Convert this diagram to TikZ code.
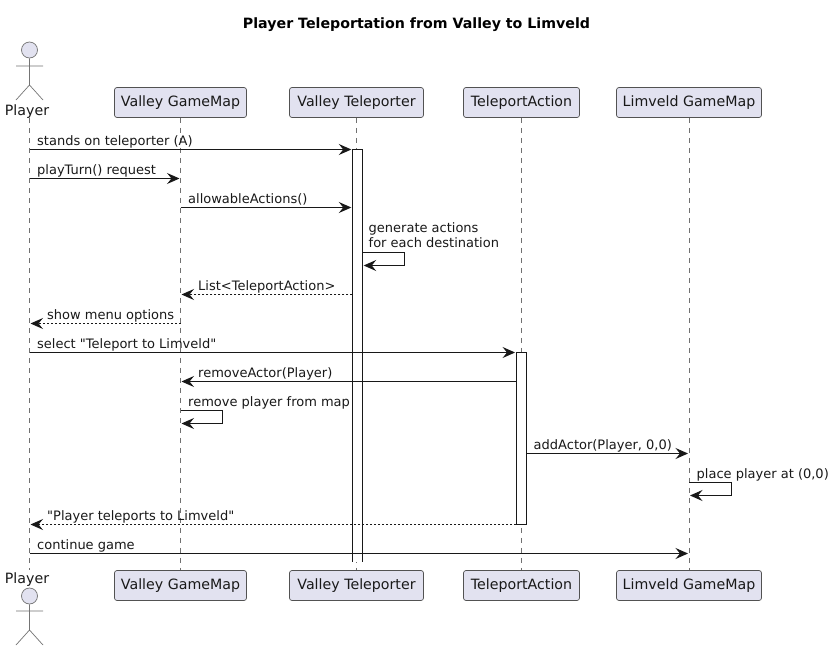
\documentclass[tikz,border=0pt]{standalone}
\usepackage{fontspec}
\setmainfont{DejaVu Sans}[Ligatures=TeXOff]
\usetikzlibrary{arrows.meta}
\definecolor{partfill}{HTML}{E2E2F0}
\definecolor{partline}{HTML}{181818}
\definecolor{lifegray}{HTML}{707070}
\tikzset{
  part/.style={draw=partline!75,line width=0.7pt,fill=partfill,rounded corners=2.5pt,inner sep=0pt,minimum height=30pt,font=\fontsize{14.2}{16}\selectfont,text=black!90},
  life/.style={draw=lifegray,line width=0.7pt,dash pattern=on 5pt off 5pt},
  actorline/.style={draw=partline!60,line width=0.7pt},
  actorhead/.style={circle,draw=partline!60,line width=0.7pt,fill=partfill,minimum size=16pt,inner sep=0pt},
  actorlabel/.style={inner sep=0pt,font=\fontsize{14.2}{16}\selectfont,text=black!90},
  actbar/.style={fill=white,inner sep=0pt,minimum width=10pt},
  actedge/.style={draw=partline,line width=0.9pt},
  msg/.style={draw=partline,line width=0.9pt,shorten >=1pt,-{Stealth[length=12.5pt,width=11pt,inset=4.5pt]}},
  ret/.style={msg,dash pattern=on 2pt off 2pt},
  lbl/.style={anchor=base west,inner sep=0pt,font=\fontsize{13}{15}\selectfont,text=black!90},
}
\begin{document}
\begin{tikzpicture}[x=1pt,y=-1pt]
\useasboundingbox (0,0) rectangle (833,651);
\fill[white] (0,0) rectangle (833,651);
\node[anchor=base,inner sep=0pt,font=\fontsize{14.2}{16}\selectfont\bfseries] (title) at (416.5,28) {Player Teleportation from Valley to Limveld};

% participants
\node[part,minimum width=132pt] (vg) at (180.5,102.5) {Valley GameMap};
\node[part,minimum width=134pt] (vt) at (356.5,102.5) {Valley Teleporter};
\node[part,minimum width=116pt] (ta) at (521.5,102.5) {TeleportAction};
\node[part,minimum width=145pt] (lg) at (689,102.5) {Limveld GameMap};
\node[part,minimum width=132pt] (vgb) at (180.5,585.5) {Valley GameMap};
\node[part,minimum width=134pt] (vtb) at (356.5,585.5) {Valley Teleporter};
\node[part,minimum width=116pt] (tab) at (521.5,585.5) {TeleportAction};
\node[part,minimum width=145pt] (lgb) at (689,585.5) {Limveld GameMap};

% actors
\node[actorhead] (ph) at (29.5,50) {};
\node[actorlabel,anchor=base] (pl) at (27,115) {Player};
\node[actorlabel,anchor=base] (plb) at (27,583) {Player};
\node[actorhead] (phb) at (29.5,596) {};
\coordinate (pt) at (29.5,118);
\coordinate (pb) at (29.5,570);
\coordinate (phip) at (29.5,85);
\coordinate (phipb) at (29.5,630);
\draw[actorline] (ph.south) -- (phip) (16,66) -- (43,66) (16,100) -- (phip) -- (43,100);
\draw[actorline] (phb.south) -- (phipb) (16,611) -- (43,611) (16,645) -- (phipb) -- (43,645);

% lifelines
\draw[life] (pt) -- (pb);
\draw[life] (vg.south) -- (vgb.north);
\draw[life] (vt.south) -- (vtb.north);
\draw[life] (ta.south) -- (tab.north);
\draw[life] (lg.south) -- (lgb.north);

% activation bars
\node[actbar,minimum height=412pt] (avt) at (357.5,355.5) {};
\draw[actedge] (avt.south west) -- (avt.north west) -- (avt.north east) -- (avt.south east);
\node[actbar,draw=partline,line width=0.9pt,minimum height=172pt] (ata) at (521.5,438.5) {};

% message rows
\foreach \n/\y in {1/149.5,2/178.5,3/207.5,4/252.5,4b/265.5,5/294.5,6/323.5,7/352.5,8/381.5,9/410.5,9b/423.5,10/453.5,11/482.5,11b/495.5,12/524.5,13/553.5}
  \coordinate (r\n) at (0,\y);
\coordinate (pp) at (29.5,0);

\draw[msg] (pp |- r1) -- (avt.west |- r1);
\node[lbl] at (37,145) {stands on teleporter (A)};
\draw[msg] (pp |- r2) -- (vg.center |- r2);
\node[lbl] at (37,174) {playTurn() request};
\draw[msg] (vg.center |- r3) -- (avt.west |- r3);
\node[lbl] at (188,203) {allowableActions()};
\draw[msg] (avt.east |- r4) -- ++(42,0) -- ++(0,13) -- (avt.east |- r4b);
\node[lbl] at (368.5,232) {generate actions};
\node[lbl] at (368.5,247.5) {for each destination};
\draw[ret] (avt.west |- r5) -- (vg.center |- r5);
\node[lbl] at (198,290) {List<TeleportAction>};
\draw[ret] (vg.center |- r6) -- (pp |- r6);
\node[lbl] at (47,319) {show menu options};
\draw[msg] (pp |- r7) -- (ata.west |- r7);
\node[lbl] at (37,348) {select "Teleport to Limveld"};
\draw[msg] (ata.west |- r8) -- (vg.center |- r8);
\node[lbl] at (198,377) {removeActor(Player)};
\draw[msg] (vg.center |- r9) -- ++(42,0) -- ++(0,13) -- (vg.center |- r9b);
\node[lbl] at (188,406) {remove player from map};
\draw[msg] (ata.east |- r10) -- (lg.center |- r10);
\node[lbl] at (533.5,449) {addActor(Player, 0,0)};
\draw[msg] (lg.center |- r11) -- ++(42,0) -- ++(0,13) -- (lg.center |- r11b);
\node[lbl] at (696.5,478) {place player at (0,0)};
\draw[ret] (ata.west |- r12) -- (pp |- r12);
\node[lbl] at (47,520) {"Player teleports to Limveld"};
\draw[msg] (pp |- r13) -- (lg.center |- r13);
\node[lbl] at (37,549) {continue game};
\end{tikzpicture}
\end{document}
